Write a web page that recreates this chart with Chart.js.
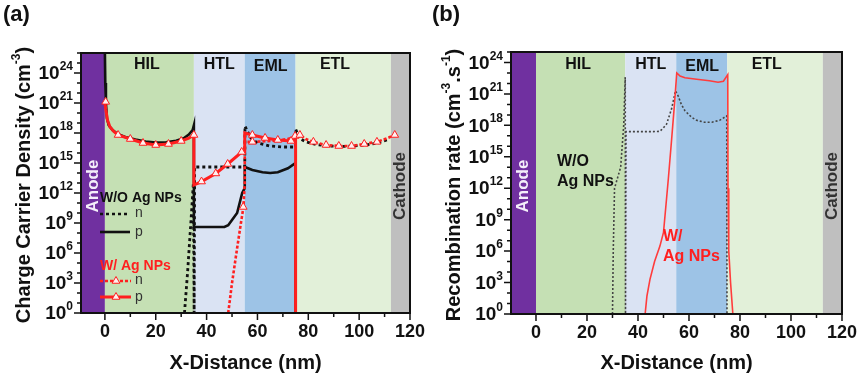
<!DOCTYPE html>
<html>
<head>
<meta charset="utf-8">
<script src="https://cdn.jsdelivr.net/npm/chart.js@4.4.1/dist/chart.umd.min.js"></script>
<style>
  body { margin: 0; background: #fff; }
  #wrap { position: relative; width: 858px; height: 376px; }
  canvas { position: absolute; top: 0; }
  #chartA { left: 0; }
  #chartB { left: 429px; }
</style>
</head>
<body>
<div id="wrap">
  <canvas id="chartA" width="429" height="376"></canvas>
  <canvas id="chartB" width="429" height="376"></canvas>
</div>
<script>
// Device stack (nm)
const layerNames = ['Anode', 'HIL', 'HTL', 'EML', 'ETL', 'Cathode'];
const layerEdges = [-10, 0, 35, 55, 75, 112.5, 120];
const layerColors = ['#7030a0', '#c5e0b4', '#dae3f3', '#9dc3e6', '#e2f0d9', '#bfbfbf'];

const xTicks = [0, 20, 40, 60, 80, 100, 120];

// (a) charge carrier density [x (nm), cm^-3]
const pWithout = [[0, 1e26], [0.15, 1e23], [0.4, 1e21], [0.8, 3e19], [1.5, 6e18], [3, 2e18], [5, 8e17], [8, 4e17],
  [12, 2.2e17], [16, 1.4e17], [20, 1.1e17], [24, 1.2e17], [28, 1.7e17], [31, 3e17], [33, 7e17], [34.5, 2e18], [35, 6e18],
  [35, 4e8], [40, 4e8], [47, 4e8], [48.5, 6e8], [50, 2e9], [52, 1e10], [54, 1e12], [55, 3e12],
  [55, 4e14], [58, 2e14], [62, 1.2e14], [65, 1e14], [68, 1.2e14], [72, 3e14], [75, 1e15], [75, 1]];
const nWithout = [[31.3, 1], [32.5, 1e4], [33.8, 1e9], [34.8, 1e13], [35.1, 1], [35.3, 4e14], [45, 4e14], [55, 4e14],
  [55.1, 5e18], [56, 1.5e18], [57.5, 3e17], [60, 1e17], [65, 5e16], [70, 4e16], [75, 4e16],
  [75, 2.5e18], [76.5, 3e17], [79, 1.3e17], [83, 7e16], [88, 5e16], [93, 4.5e16], [98, 5e16], [103, 6.5e16],
  [108, 1.1e17], [112, 2.5e17]];
const pWith = [[0, 1.3e21], [0.4, 2e20], [1, 2e19], [2, 4e18], [3.5, 1.4e18], [5.2, 6.3e17], [10, 2.5e17], [15, 1e17],
  [20, 6.3e16], [25, 8e16], [30, 1.6e17], [33, 3e17], [35, 6.3e17], [35, 6.3e12], [38, 1.4e13], [43.6, 9e13],
  [48.3, 8e14], [53.8, 1.26e16], [55, 1.6e16], [55, 1e18], [58, 6.3e17], [63, 3.2e17], [68, 2e17], [73.2, 1.6e17],
  [75, 2e17], [75, 1]];
const pWithMarks = [[0.3, 1.3e21], [5.2, 6.3e17], [10, 2.5e17], [15, 1e17], [20, 6.3e16], [25, 8e16], [30, 1.6e17],
  [35, 6.3e17], [38, 1.4e13], [43.6, 9e13], [48.3, 8e14], [53.8, 1.26e16], [58, 6.3e17], [63, 3.2e17], [68, 2e17],
  [73.2, 1.6e17]];
const nWith = [[48.5, 1], [50, 1e3], [52, 3e6], [53.5, 1e9], [54.5, 4e10], [55, 1e13], [55, 1.3e17], [58, 1.3e17],
  [63, 1.5e17], [68, 1.8e17], [72, 2.5e17], [75, 5e17], [76.7, 6.3e17], [79, 2.5e17], [82, 1.3e17], [87, 6.3e16],
  [92, 5e16], [97, 5e16], [102, 8e16], [107, 1.3e17], [111, 3e17], [114, 6.3e17]];
const nWithMarks = [[54.4, 4e10], [58, 1.3e17], [74.8, 5e17], [76.7, 6.3e17], [82, 1.3e17], [87, 6.3e16], [92, 5e16],
  [97, 5e16], [102, 8e16], [107, 1.3e17], [114, 6.3e17]];

// (b) recombination rate [x (nm), cm^-3 s^-1]
const rWithout = [[30, 1], [30.3, 1e6], [30.8, 1e12], [33.2, 1e14], [34.4, 1e18], [35, 4e22], [35.1, 1], [35.3, 2.5e17],
  [40, 2.5e17], [45, 2.5e17], [48.6, 2.7e17], [50, 6e17], [51.2, 1.3e18], [53.2, 4e19], [54.7, 2e21], [55.8, 6e20],
  [57, 1e20], [58.4, 2.5e19], [61, 6e18], [63, 3e18], [66, 2e18], [69, 2e18], [72, 3e18], [74.8, 8e18], [74.9, 1]];
const rWith = [[42.8, 1], [43.5, 50], [44.7, 2e3], [46.5, 1e5], [48.6, 3e6], [50, 6e7], [51, 3e10], [51.9, 8e12],
  [53.2, 5e16], [54.3, 1e20], [55.2, 1e23], [56.5, 5e22], [58.4, 3.5e22], [63, 2.5e22], [68, 1.8e22], [71.4, 1.3e22],
  [73.5, 1.6e22], [75.2, 7e22], [75.3, 1e12], [75.6, 1e6], [76.3, 1e3], [77.2, 1]];

const FONT = '"Liberation Sans", Arial, Helvetica, sans-serif';
const RED = '#ff1f1f';

// text with superscript parts: [[text, isSup], ...]
function drawRich(ctx, parts, x, y, size, align) {
  const supSize = Math.round(size * 0.62);
  let w = 0;
  const widths = parts.map(([t, sup]) => {
    ctx.font = `bold ${sup ? supSize : size}px ${FONT}`;
    const m = ctx.measureText(t).width;
    w += m;
    return m;
  });
  let cx = align === 'right' ? x - w : align === 'center' ? x - w / 2 : x;
  ctx.textAlign = 'left';
  ctx.textBaseline = 'middle';
  parts.forEach(([t, sup], i) => {
    ctx.font = `bold ${sup ? supSize : size}px ${FONT}`;
    ctx.fillText(t, cx, sup ? y - size * 0.38 : y);
    cx += widths[i];
  });
}

function triangle(ctx, x, y, r) {
  ctx.beginPath();
  ctx.moveTo(x, y - r);
  ctx.lineTo(x + 0.866 * r, y + 0.5 * r);
  ctx.lineTo(x - 0.866 * r, y + 0.5 * r);
  ctx.closePath();
  ctx.fillStyle = '#fff0f0';
  ctx.fill();
  ctx.lineWidth = 1;
  ctx.strokeStyle = RED;
  ctx.stroke();
}

function segment(ctx, x0, x1, y, color, dash, width) {
  ctx.beginPath();
  ctx.setLineDash(dash);
  ctx.strokeStyle = color;
  ctx.lineWidth = width;
  ctx.moveTo(x0, y);
  ctx.lineTo(x1, y);
  ctx.stroke();
  ctx.setLineDash([]);
}

function legendA(ctx) {
  ctx.fillStyle = '#111';
  ctx.textAlign = 'left';
  ctx.textBaseline = 'middle';
  ctx.font = `bold 14px ${FONT}`;
  ctx.fillText('W/O Ag NPs', 100, 198);
  segment(ctx, 100, 130, 214, '#111', [3, 3], 2.6);
  segment(ctx, 100, 130, 232, '#111', [], 2.6);
  ctx.fillStyle = RED;
  ctx.fillText('W/ Ag NPs', 100, 266);
  segment(ctx, 100, 131, 281, RED, [3, 2], 2.6);
  triangle(ctx, 116, 281, 4.5);
  segment(ctx, 100, 131, 297, RED, [], 3);
  triangle(ctx, 116, 297, 4.5);
  ctx.font = `14px ${FONT}`;
  ctx.fillStyle = '#333';
  ctx.textAlign = 'left';
  ctx.textBaseline = 'middle';
  ctx.fillText('n', 135, 213);
  ctx.fillText('p', 135, 232);
  ctx.fillText('n', 135, 280);
  ctx.fillText('p', 135, 297);
}

function notesB(ctx) {
  ctx.textAlign = 'left';
  ctx.textBaseline = 'middle';
  ctx.font = `bold 16px ${FONT}`;
  ctx.fillStyle = '#111';
  ctx.fillText('W/O', 128, 162);
  ctx.fillText('Ag NPs', 128, 182);
  ctx.fillStyle = RED;
  ctx.fillText('W/', 234, 237);
  ctx.fillText('Ag NPs', 234, 257);
}

function devicePlugin(p) {
  return {
    id: 'device' + p.letter,
    beforeDatasetsDraw(chart) {
      const { ctx, chartArea: a, scales: { x } } = chart;
      ctx.save();
      layerNames.forEach((name, i) => {
        const x0 = Math.max(a.left, x.getPixelForValue(layerEdges[i]));
        const x1 = Math.min(a.right, x.getPixelForValue(layerEdges[i + 1]));
        ctx.fillStyle = layerColors[i];
        ctx.fillRect(x0, a.top, x1 - x0, a.bottom - a.top);
      });
      // layer names
      ctx.fillStyle = '#111';
      ctx.font = `bold 16px ${FONT}`;
      ctx.textAlign = 'center';
      ctx.textBaseline = 'middle';
      [[1, 16.5, 65], [2, 45, 65], [3, 65.2, 67], [4, 90.5, 65]].forEach(([i, lx, ly]) => {
        ctx.fillText(layerNames[i], x.getPixelForValue(lx), ly);
      });
      // electrodes, vertical text
      const electrode = (name, cx, color) => {
        ctx.save();
        ctx.translate(cx, 186);
        ctx.rotate(-Math.PI / 2);
        ctx.fillStyle = color;
        ctx.font = `bold 17px ${FONT}`;
        ctx.fillText(name, 0, 0);
        ctx.restore();
      };
      electrode('Anode', (a.left + x.getPixelForValue(0)) / 2, '#f4eefa');
      electrode('Cathode', (x.getPixelForValue(112.5) + a.right) / 2, '#333');
      ctx.restore();
    },
    afterDraw(chart) {
      const { ctx, chartArea: a, scales: { x, y } } = chart;
      ctx.save();
      ctx.strokeStyle = '#111';
      ctx.fillStyle = '#111';
      // ticks
      ctx.lineWidth = 1.5;
      ctx.beginPath();
      for (let v = 0; v <= 120; v += 10) {
        const px = x.getPixelForValue(v);
        ctx.moveTo(px, a.bottom);
        ctx.lineTo(px, a.bottom + (v % 20 === 0 ? 7 : 4));
      }
      const topExp = Math.floor(Math.log10(y.max) + 1e-9);
      for (let e = 0; e <= topExp; e++) {
        const py = y.getPixelForValue(Math.pow(10, e));
        ctx.moveTo(a.left, py);
        ctx.lineTo(a.left - (e % 3 === 0 ? 7 : 4), py);
      }
      ctx.stroke();
      // frame
      ctx.lineWidth = 2;
      ctx.strokeRect(a.left, a.top, a.right - a.left, a.bottom - a.top);
      // tick labels
      ctx.font = `bold 18px ${FONT}`;
      ctx.textAlign = 'center';
      ctx.textBaseline = 'middle';
      xTicks.forEach(v => ctx.fillText(String(v), x.getPixelForValue(v), a.bottom + 19));
      for (let e = 0; e <= topExp; e += 3) {
        drawRich(ctx, [['10', 0], [String(e), 1]], a.left - 8, y.getPixelForValue(Math.pow(10, e)) + 1, 19, 'right');
      }
      // axis titles
      ctx.font = `bold 20px ${FONT}`;
      ctx.textAlign = 'center';
      ctx.fillText('X-Distance (nm)', (a.left + a.right) / 2, 363);
      ctx.save();
      ctx.translate(p.yTitleX, 185);
      ctx.rotate(-Math.PI / 2);
      drawRich(ctx, p.yTitle, 0, 0, 20, 'center');
      ctx.restore();
      // panel letter
      ctx.font = `bold 22px ${FONT}`;
      ctx.textAlign = 'left';
      ctx.fillText(p.letter, 3, 15);
      p.extras(ctx);
      ctx.restore();
    }
  };
}

function lineSet(data, color, width, dash) {
  return { data, borderColor: color, borderWidth: width, borderDash: dash, pointRadius: 0, fill: false, tension: 0 };
}
function markSet(data) {
  return {
    data, showLine: false, pointStyle: 'triangle', pointRadius: 4.5, pointBorderWidth: 1,
    pointBackgroundColor: '#fff0f0', pointBorderColor: RED
  };
}

function makePanel(p) {
  new Chart(document.getElementById(p.canvas), {
    type: 'line',
    data: { datasets: p.datasets },
    options: {
      responsive: false,
      animation: false,
      devicePixelRatio: 1,
      events: [],
      layout: { padding: p.pad },
      scales: {
        x: { type: 'linear', min: p.xMin, max: 120, display: false },
        y: { type: 'logarithmic', min: 1, max: p.yMax, display: false }
      },
      plugins: { legend: { display: false }, tooltip: { enabled: false } }
    },
    plugins: [devicePlugin(p)]
  });
}

// first dataset is drawn on top
makePanel({
  canvas: 'chartA', letter: '(a)', xMin: -9.4, yMax: 1e26,
  pad: { left: 81, top: 53, right: 19, bottom: 63 },
  yTitleX: 24,
  yTitle: [['Charge Carrier Density (cm', 0], ['-3', 1], [')', 0]],
  extras: legendA,
  datasets: [
    markSet(pWithMarks),
    markSet(nWithMarks),
    lineSet(pWith, RED, 3, []),
    lineSet(nWith, RED, 2.6, [3, 2]),
    lineSet(nWithout, '#111', 2.8, [3, 3]),
    lineSet(pWithout, '#111', 2.6, [])
  ]
});

makePanel({
  canvas: 'chartB', letter: '(b)', xMin: -9.8, yMax: 1e25,
  pad: { left: 82, top: 52, right: 16, bottom: 62 },
  yTitleX: 25,
  yTitle: [['Recombination rate (cm', 0], ['-3', 1], ['.s', 0], ['-1', 1], [')', 0]],
  extras: notesB,
  datasets: [
    lineSet(rWith, '#ff3c3c', 1.6, []),
    lineSet(rWithout, '#444', 1.6, [2, 2])
  ]
});
</script>
</body>
</html>
